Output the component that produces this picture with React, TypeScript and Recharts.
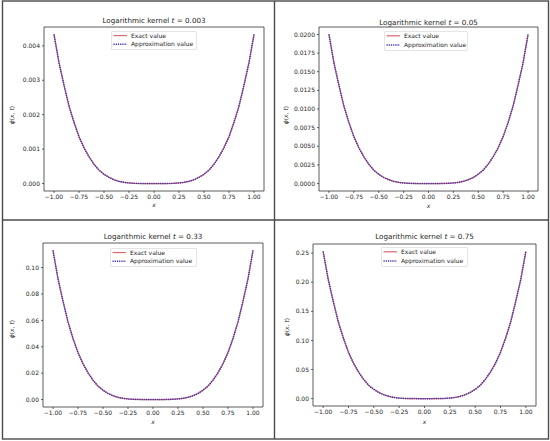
import React from 'react';
import { LineChart, Line, XAxis, YAxis, ReferenceArea } from 'recharts';

// x sample points
const X_VALUES = [
  -1, -0.95, -0.9, -0.85, -0.8, -0.75, -0.7, -0.65, -0.6, -0.55, -0.5,
  -0.45, -0.4, -0.35, -0.3, -0.25, -0.2, -0.15, -0.1, -0.05, 0,
  0.05, 0.1, 0.15, 0.2, 0.25, 0.3, 0.35, 0.4, 0.45, 0.5,
  0.55, 0.6, 0.65, 0.7, 0.75, 0.8, 0.85, 0.9, 0.95, 1,
];

// phi(x, t) (exact and approximation overlap)
const PHI_T0003 = [
  0.00433, 0.00351, 0.00286, 0.00225, 0.00178, 0.00136, 0.00104, 0.00078, 0.00056, 0.00039, 0.00027,
  0.00018, 0.00011, 0.000065, 0.000035, 0.000017, 0.000007, 0.000002, 0.0000005, 0, 0,
  0, 0.0000005, 0.000002, 0.000007, 0.000017, 0.000035, 0.000065, 0.00011, 0.00018, 0.00027,
  0.00039, 0.00056, 0.00078, 0.00104, 0.00136, 0.00178, 0.00225, 0.00286, 0.00351, 0.00433,
];
const PHI_T005 = [
  0.02, 0.0162, 0.0132, 0.0104, 0.0082, 0.0063, 0.0048, 0.0036, 0.0026, 0.0018, 0.00126,
  0.00082, 0.00052, 0.0003, 0.00016, 0.00008, 0.00003, 0.00001, 0.000002, 0, 0,
  0, 0.000002, 0.00001, 0.00003, 0.00008, 0.00016, 0.0003, 0.00052, 0.00082, 0.00126,
  0.0018, 0.0026, 0.0036, 0.0048, 0.0063, 0.0082, 0.0104, 0.0132, 0.0162, 0.02,
];
const PHI_T033 = [
  0.113, 0.0915, 0.0746, 0.0588, 0.0463, 0.0356, 0.0271, 0.0203, 0.0147, 0.0102, 0.0071,
  0.0046, 0.0029, 0.0017, 0.0009, 0.00045, 0.00018, 0.00006, 0.00001, 0, 0,
  0, 0.00001, 0.00006, 0.00018, 0.00045, 0.0009, 0.0017, 0.0029, 0.0046, 0.0071,
  0.0102, 0.0147, 0.0203, 0.0271, 0.0356, 0.0463, 0.0588, 0.0746, 0.0915, 0.113,
];
const PHI_T075 = [
  0.253, 0.205, 0.167, 0.1316, 0.1037, 0.0797, 0.0607, 0.0455, 0.0329, 0.0228, 0.0159,
  0.0104, 0.0066, 0.0038, 0.002, 0.001, 0.0004, 0.00013, 0.00003, 0, 0,
  0, 0.00003, 0.00013, 0.0004, 0.001, 0.002, 0.0038, 0.0066, 0.0104, 0.0159,
  0.0228, 0.0329, 0.0455, 0.0607, 0.0797, 0.1037, 0.1316, 0.167, 0.205, 0.253,
];

const X_TICKS = [-1, -0.75, -0.5, -0.25, 0, 0.25, 0.5, 0.75, 1];
const Y_TICKS_T0003 = [0, 0.001, 0.002, 0.003, 0.004];
const Y_TICKS_T005 = [0, 0.0025, 0.005, 0.0075, 0.01, 0.0125, 0.015, 0.0175, 0.02];
const Y_TICKS_T033 = [0, 0.02, 0.04, 0.06, 0.08, 0.1];
const Y_TICKS_T075 = [0, 0.05, 0.1, 0.15, 0.2, 0.25];

const FONT = '"DejaVu Sans", sans-serif';
const RED = '#d86a6a';
const BLUE = '#3a2fb8';

const fmt = (digits: number) => (v: number) =>
  v < 0 ? '\u2212' + Math.abs(v).toFixed(digits) : v.toFixed(digits);

type Rect = { left: number; top: number; right: number; bottom: number };

type PanelProps = {
  box: Rect;
  plot: Rect;
  values: number[];
  yTicks: number[];
  yDigits: number;
  tLabel: string;
  titleY: number;
  legend: Rect;
  ylabelPos: [number, number];
  xlabelY: number;
};

function Panel(p: PanelProps) {
  const rows = X_VALUES.map((x, i) => ({ x, exact: p.values[i], approx: p.values[i] }));
  const maxV = Math.max(...p.values);
  const minV = Math.min(...p.values);
  const pad = (maxV - minV) * 0.05;
  const yDomain: [number, number] = [minV - pad, maxV + pad];
  const w = p.box.right - p.box.left;
  const h = p.box.bottom - p.box.top;
  const xAxisH = 20;
  const margin = {
    top: p.plot.top - p.box.top,
    right: p.box.right - p.plot.right,
    left: 0,
    bottom: p.box.bottom - p.plot.bottom - xAxisH,
  };
  const cx = (p.plot.left + p.plot.right) / 2;
  const tickStyle = { fontSize: 6, fill: '#1e1e1e', fontFamily: FONT };
  const lw = p.legend.right - p.legend.left;
  const lh = p.legend.bottom - p.legend.top;
  return (
    <>
      <div style={{ position: 'absolute', left: p.box.left, top: p.box.top }}>
        <LineChart width={w} height={h} data={rows} margin={margin}>
          <XAxis
            type="number"
            dataKey="x"
            domain={[-1.1, 1.1]}
            ticks={X_TICKS}
            interval={0}
            tickFormatter={fmt(2)}
            height={xAxisH}
            tickSize={2}
            tickMargin={2}
            axisLine={false}
            tickLine={{ stroke: '#222', strokeWidth: 0.7 }}
            tick={tickStyle}
            allowDataOverflow
          />
          <YAxis
            type="number"
            domain={yDomain}
            ticks={p.yTicks}
            interval={0}
            tickFormatter={fmt(p.yDigits)}
            width={p.plot.left - p.box.left}
            tickSize={2}
            tickMargin={2}
            axisLine={false}
            tickLine={{ stroke: '#222', strokeWidth: 0.7 }}
            tick={tickStyle}
            allowDataOverflow
          />
          <Line
            type="linear"
            dataKey="exact"
            stroke={RED}
            strokeWidth={1.2}
            dot={false}
            isAnimationActive={false}
          />
          <Line
            type="linear"
            dataKey="approx"
            stroke={BLUE}
            strokeWidth={1.5}
            strokeDasharray="1.2 1"
            dot={false}
            isAnimationActive={false}
          />
          <ReferenceArea
            x1={-1.1}
            x2={1.1}
            y1={yDomain[0]}
            y2={yDomain[1]}
            fill="none"
            fillOpacity={0}
            stroke="#333"
            strokeWidth={0.8}
            ifOverflow="visible"
          />
        </LineChart>
      </div>
      <div
        style={{
          position: 'absolute',
          left: cx,
          top: p.titleY,
          transform: 'translate(-50%, -50%)',
          fontFamily: FONT,
          fontSize: 7.2,
          color: '#1e1e1e',
          whiteSpace: 'nowrap',
          lineHeight: 1,
        }}
      >
        Logarithmic kernel <span style={{ fontStyle: 'italic' }}>t</span> = {p.tLabel}
      </div>
      <div
        style={{
          position: 'absolute',
          left: cx,
          top: p.xlabelY,
          transform: 'translate(-50%, -50%)',
          fontFamily: FONT,
          fontSize: 6,
          fontStyle: 'italic',
          color: '#1e1e1e',
          lineHeight: 1,
        }}
      >
        x
      </div>
      <div
        style={{
          position: 'absolute',
          left: p.ylabelPos[0],
          top: p.ylabelPos[1],
          transform: 'translate(-50%, -50%) rotate(-90deg)',
          fontFamily: FONT,
          fontSize: 6,
          color: '#1e1e1e',
          whiteSpace: 'nowrap',
          lineHeight: 1,
        }}
      >
        <i>ϕ</i>(<i>x</i>, <i>t</i>)
      </div>
      <svg
        style={{ position: 'absolute', left: p.legend.left, top: p.legend.top }}
        width={lw}
        height={lh}
      >
        <rect x={0.4} y={0.4} width={lw - 0.8} height={lh - 0.8} rx={1.5} fill="#fff" fillOpacity={0.85} stroke="#ccc" strokeWidth={0.6} />
        <line x1={2.5} x2={16} y1={lh * 0.24} y2={lh * 0.24} stroke={RED} strokeWidth={1.2} />
        <text x={20} y={lh * 0.24} dy="0.35em" fontSize={6} fontFamily={FONT} fill="#1e1e1e">Exact value</text>
        <line x1={2.5} x2={16} y1={lh * 0.7} y2={lh * 0.7} stroke={BLUE} strokeWidth={1.5} strokeDasharray="1.2 1" />
        <text x={20} y={lh * 0.7} dy="0.35em" fontSize={6} fontFamily={FONT} fill="#1e1e1e">Approximation value</text>
      </svg>
    </>
  );
}

export default function App() {
  return (
    <div style={{ position: 'absolute', left: 0, top: 0, width: 550, height: 441, background: '#fff', overflow: 'hidden' }}>
      <Panel
        box={{ left: 3, top: 2, right: 273, bottom: 219 }}
        plot={{ left: 44, top: 27, right: 264, bottom: 191 }}
        values={PHI_T0003}
        yTicks={Y_TICKS_T0003}
        yDigits={3}
        tLabel="0.003"
        titleY={21}
        legend={{ left: 111, top: 31, right: 197, bottom: 50 }}
        ylabelPos={[12, 115]}
        xlabelY={205}
      />
      <Panel
        box={{ left: 276, top: 2, right: 547, bottom: 219 }}
        plot={{ left: 319, top: 27, right: 538, bottom: 191 }}
        values={PHI_T005}
        yTicks={Y_TICKS_T005}
        yDigits={4}
        tLabel="0.05"
        titleY={22.5}
        legend={{ left: 384, top: 31, right: 468, bottom: 51 }}
        ylabelPos={[286, 115]}
        xlabelY={205.5}
      />
      <Panel
        box={{ left: 3, top: 221, right: 273, bottom: 438 }}
        plot={{ left: 43, top: 243, right: 263, bottom: 407 }}
        values={PHI_T033}
        yTicks={Y_TICKS_T033}
        yDigits={2}
        tLabel="0.33"
        titleY={236.5}
        legend={{ left: 110, top: 248, right: 197, bottom: 267 }}
        ylabelPos={[12, 329]}
        xlabelY={422}
      />
      <Panel
        box={{ left: 276, top: 221, right: 547, bottom: 438 }}
        plot={{ left: 313, top: 244, right: 536, bottom: 406 }}
        values={PHI_T075}
        yTicks={Y_TICKS_T075}
        yDigits={2}
        tLabel="0.75"
        titleY={237}
        legend={{ left: 381, top: 247, right: 468, bottom: 267 }}
        ylabelPos={[287, 327]}
        xlabelY={421.5}
      />
      <svg style={{ position: 'absolute', left: 0, top: 0, pointerEvents: 'none' }} width={550} height={441}>
        <rect x={2.5} y={1} width={546} height={438} fill="none" stroke="#4a4a4a" strokeWidth={1.4} />
        <line x1={274.5} x2={274.5} y1={1} y2={439} stroke="#4a4a4a" strokeWidth={1.4} />
        <line x1={2.5} x2={548.5} y1={220} y2={220} stroke="#4a4a4a" strokeWidth={1.4} />
      </svg>
    </div>
  );
}
